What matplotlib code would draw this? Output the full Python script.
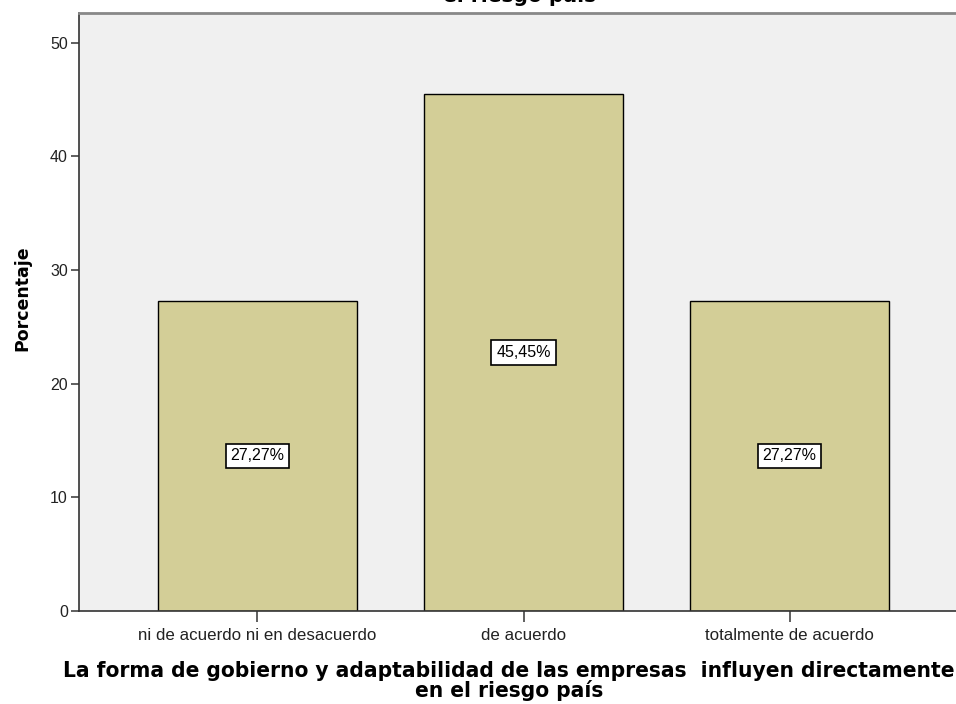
import matplotlib
matplotlib.use("Agg")
import matplotlib.pyplot as plt

categories = ["ni de acuerdo ni en desacuerdo", "de acuerdo", "totalmente de acuerdo"]
values = [27.27, 45.45, 27.27]
labels = ["27,27%", "45,45%", "27,27%"]
yticks = [0, 10, 20, 30, 40, 50]

fig = plt.figure(figsize=(9.56, 7.04), dpi=100)
W, H = 956, 704
left, right, top, bottom = 79, 968, 13, 611
ax = fig.add_axes([left / W, 1 - bottom / H, (right - left) / W, (bottom - top) / H])
ax.set_facecolor("#f0f0f0")

x = list(range(len(categories)))
ax.bar(x, values, width=0.75, color="#d3ce97", edgecolor="black", linewidth=1.0, zorder=2)
for xi, v, lab in zip(x, values, labels):
    ax.text(xi, v / 2, lab, ha="center", va="center", fontsize=11.5, family="Liberation Sans",
            bbox=dict(boxstyle="square,pad=0.3", facecolor="white", edgecolor="black", linewidth=1.2),
            zorder=3)

ax.set_xlim(-0.67, 2.67)
ax.set_ylim(0, 52.6)
ax.set_yticks(yticks)
ax.set_xticks(x)
ax.set_xticklabels(categories, fontsize=12.2, family="Liberation Sans", color="#222222")
ax.set_yticklabels([str(t) for t in yticks], fontsize=11.5, family="Liberation Sans", color="#222222")
ax.tick_params(axis="y", direction="out", length=6, width=1.2, color="#444444", pad=2)
ax.tick_params(axis="x", direction="out", length=8, width=1.2, color="#444444", pad=4)

for s in ["left", "bottom"]:
    ax.spines[s].set_color("#333333")
    ax.spines[s].set_linewidth(1.2)
ax.spines["top"].set_color("#888888")
ax.spines["top"].set_linewidth(2)
ax.spines["right"].set_visible(False)

ax.set_ylabel("Porcentaje", fontsize=12.5, fontweight="bold", family="DejaVu Sans")
ax.yaxis.set_label_coords((22 - left) / (right - left), (bottom - 298) / (bottom - top))
ax.yaxis.label.set_va("center")

ax.set_xlabel("La forma de gobierno y adaptabilidad de las empresas  influyen directamente\nen el riesgo país",
              fontsize=16.2, fontweight="bold", family="DejaVu Sans", fontstretch="condensed",
              linespacing=0.95)
ax.xaxis.set_label_coords((509 - left) / (right - left), (bottom - 681) / (bottom - top))
ax.xaxis.label.set_va("center")

fig.text(520 / W, 1 + 5 / H, "el riesgo país", ha="center", va="center", fontsize=16.2,
         fontweight="bold", family="DejaVu Sans", fontstretch="condensed")

fig.savefig("out.png", dpi=100)
